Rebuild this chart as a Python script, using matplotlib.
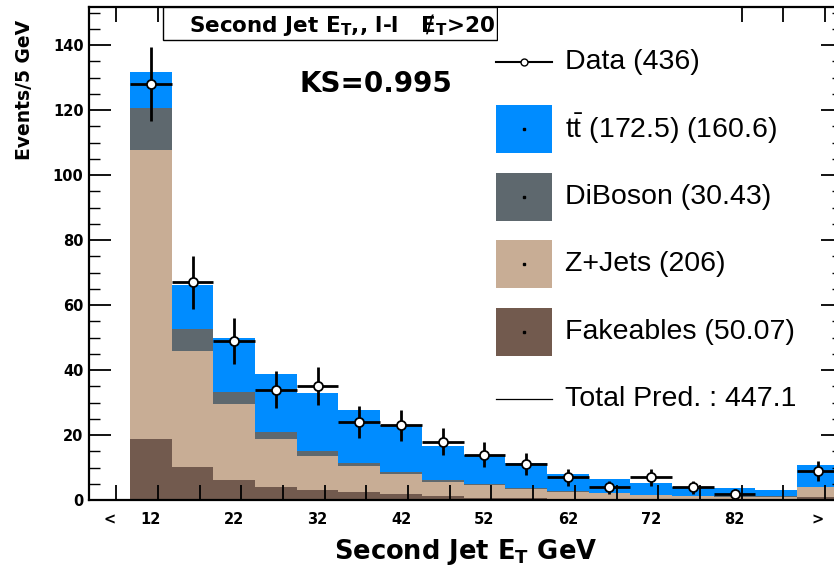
import matplotlib
matplotlib.use('Agg')
from matplotlib import pyplot as plt
from matplotlib.patches import Rectangle
from matplotlib.lines import Line2D
import numpy as np

plt.rcParams['mathtext.fontset'] = 'custom'
plt.rcParams['mathtext.rm'] = 'Liberation Sans'
plt.rcParams['mathtext.bf'] = 'DejaVu Sans:bold'

# bins 1..17 (bin 0 = underflow is empty)
bins = np.arange(1, 18)
tick_labels = ['<', '12', '22', '32', '42', '52', '62', '72', '82', '>']
tick_bins = [0, 1, 3, 5, 7, 9, 11, 13, 15, 17]

data = [128, 67, 49, 34, 35, 24, 23, 18, 14, 11, 7, 4, 7, 4, 2, 0, 9]
fakes = [18.7, 10.2, 6.1, 3.9, 3.1, 2.5, 2.0, 1.3, 0.7, 0.5, 0.4, 0.3, 0.25, 0.2, 0.2, 0.2, 0.8]
zjets = [89.1, 35.7, 23.3, 14.9, 10.5, 8.0, 5.9, 4.3, 3.9, 2.9, 2.2, 1.75, 1.25, 1.0, 0.8, 0.8, 3.1]
diboson = [12.8, 6.6, 3.9, 2.1, 1.4, 0.8, 0.6, 0.45, 0.3, 0.3, 0.2, 0.15, 0.1, 0.1, 0.1, 0.1, 0.2]
ttbar = [11.0, 13.7, 16.7, 17.8, 18.0, 16.5, 14.5, 10.5, 8.9, 7.6, 5.2, 4.3, 3.5, 2.6, 2.5, 2.0, 6.7]

col_tt = '#008cff'
col_db = '#5e686e'
col_zj = '#c8ad95'
col_fk = '#725a4e'

W, H = 834, 572
def fx(px):
    return px / W
def fy(py):
    return 1 - py / H

fig = plt.figure(figsize=(8.34, 5.72), dpi=100)
ax = fig.add_axes([fx(89), fy(500), (843 - 89) / W, (500 - 7) / H])

bottom = np.zeros(len(bins))
for vals, c in [(fakes, col_fk), (zjets, col_zj), (diboson, col_db), (ttbar, col_tt)]:
    ax.bar(bins, vals, width=1.0, bottom=bottom, color=c, linewidth=0, zorder=1)
    bottom = bottom + np.array(vals)

d = np.array(data, dtype=float)
m = d > 0
ax.errorbar(bins[m], d[m], yerr=np.sqrt(d[m]), xerr=0.5, fmt='o', color='black',
            mfc='white', mec='black', ms=6.5, mew=1.3, elinewidth=2.0, capsize=0, zorder=3)

ax.set_xlim(-0.483, 17.6)
ax.set_ylim(0, 151.7)

ax.set_xticks(np.arange(0, 18) + 0.17)
ax.set_xticklabels([])
ax.set_xticks(tick_bins, tick_labels, minor=True)
ax.set_yticks(np.arange(0, 141, 20))
ax.set_yticks(np.arange(0, 151, 5), minor=True)

ax.tick_params(axis='x', which='major', direction='in', length=11, width=1.3, top=True)
ax.tick_params(axis='x', which='minor', length=0, pad=9, labelsize=10.5)
ax.tick_params(axis='y', which='major', direction='in', length=16, width=1.3, right=True, labelsize=10.5, pad=4)
ax.tick_params(axis='y', which='minor', direction='in', length=8, width=1.0, right=True)
for lab in ax.get_xticklabels(minor=True) + ax.get_yticklabels():
    lab.set_fontweight('bold')
    lab.set_family('DejaVu Sans')
for s in ax.spines.values():
    s.set_linewidth(1.6)

ax.set_xlabel(r'Second Jet E$_{\mathbf{T}}$ GeV', fontsize=18.5, fontweight='bold', labelpad=7)
fig.text(fx(25), fy(90), 'Events/5 GeV', rotation=90, ha='center', va='center',
         fontsize=13.5, fontweight='bold')

# title box
fig.patches.append(Rectangle((fx(163), fy(40)), (497 - 163) / W, 33 / H, transform=fig.transFigure,
                             facecolor='white', edgecolor='black', linewidth=1.0, zorder=2))
fig.text(fx(342), fy(25), r'Second Jet E$_{\mathbf{T}}$,, l-l   Ɇ$_{\mathbf{T}}$>20', ha='center', va='center',
         fontsize=15.5, fontweight='bold', zorder=3)

fig.text(fx(376), fy(84), 'KS=0.995', ha='center', va='center', fontsize=20, fontweight='bold')

# legend
fig.patches.append(Rectangle((fx(498), fy(420)), (740 - 498) / W, 412 / H, transform=fig.transFigure,
                             facecolor='white', edgecolor='none', zorder=2))
leg_y = [62, 129, 197, 264, 332, 399]
leg_text = ['Data (436)', r't$\bar{\rm t}$ (172.5) (160.6)', 'DiBoson (30.43)', 'Z+Jets (206)',
            'Fakeables (50.07)', 'Total Pred. : 447.1']
leg_col = [None, col_tt, col_db, col_zj, col_fk, None]
for yy, txt, c in zip(leg_y, leg_text, leg_col):
    if c is not None:
        fig.patches.append(Rectangle((fx(496), fy(yy + 24)), 56 / W, 48 / H, transform=fig.transFigure,
                                     facecolor=c, edgecolor='none', zorder=3))
        fig.lines.append(Line2D([fx(524)], [fy(yy)], transform=fig.transFigure, marker='s', ms=1.5,
                                color='black', ls='none', zorder=4))
    fig.text(fx(565), fy(yy), txt, ha='left', va='center', fontsize=20.5, family='Liberation Sans', zorder=4)

fig.lines.append(Line2D([fx(496), fx(552)], [fy(62), fy(62)], transform=fig.transFigure, color='black',
                        lw=1.5, zorder=4))
fig.lines.append(Line2D([fx(524)], [fy(62)], transform=fig.transFigure, color='black', marker='o',
                        mfc='white', ms=5, mew=1.0, ls='none', zorder=5))
fig.lines.append(Line2D([fx(496), fx(552)], [fy(399), fy(399)], transform=fig.transFigure, color='black',
                        lw=0.9, zorder=4))

fig.savefig('out.png', dpi=100)
